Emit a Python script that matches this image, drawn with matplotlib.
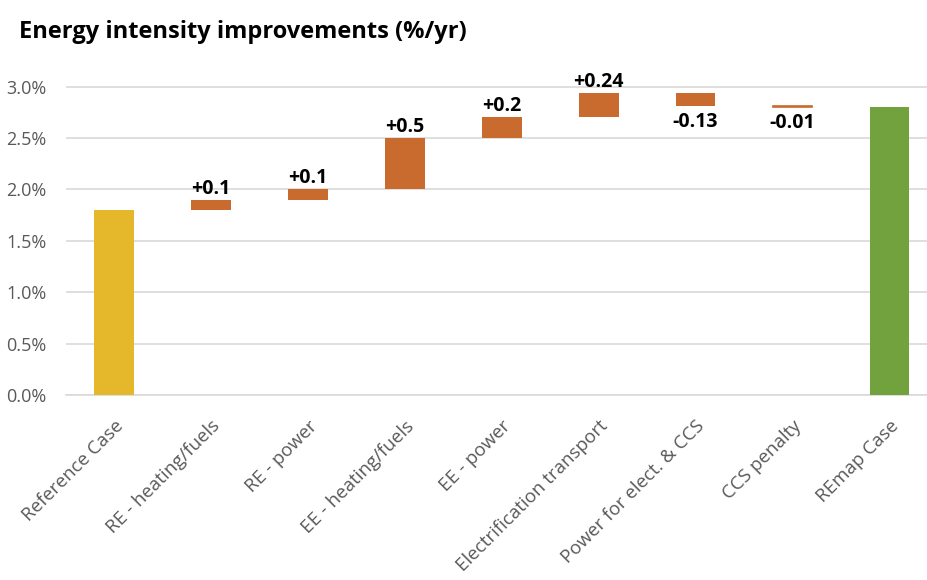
import numpy as np
import matplotlib.pyplot as plt
from matplotlib.ticker import FuncFormatter

plt.rcParams['font.family'] = ['Open Sans', 'DejaVu Sans']

# data
categories = ['Reference Case', 'RE - heating/fuels', 'RE - power', 'EE - heating/fuels',
              'EE - power', 'Electrification transport', 'Power for elect. & CCS',
              'CCS penalty', 'REmap Case']
start_value = 1.8
steps = [0.1, 0.1, 0.5, 0.2, 0.24, -0.13, -0.01]
step_labels = ['+0.1', '+0.1', '+0.5', '+0.2', '+0.24', '-0.13', '-0.01']
end_value = 2.8

yellow = '#E5B82B'
orange = '#C96A2E'
green = '#72A23E'

fig = plt.figure(figsize=(9.28, 5.8), dpi=100)
ax = fig.add_axes([0.0707, 0.319, 0.94, 0.576])

x = np.arange(len(categories))
w = 0.41

ax.bar(x[0], start_value, width=w, color=yellow, zorder=3)
level = start_value
for i, (s, lab) in enumerate(zip(steps, step_labels)):
    xi = x[i + 1]
    bottom = level if s > 0 else level + s
    h = abs(s)
    ax.bar(xi, h, bottom=bottom, width=w, color=orange, zorder=3,
           linewidth=0 if h > 0.02 else 1.2, edgecolor=orange)
    if s > 0:
        ax.text(xi, bottom + h + 0.01, lab, ha='center', va='bottom',
                fontsize=14, fontweight='bold', color='black')
    else:
        ax.text(xi, bottom - 0.06, lab, ha='center', va='top',
                fontsize=14, fontweight='bold', color='black')
    level += s
ax.bar(x[-1], end_value, width=w, color=green, zorder=3)

ax.set_xlim(-0.5, 8.5)
ax.set_ylim(0, 3.25)
ax.set_yticks(np.arange(0, 3.01, 0.5))
ax.yaxis.set_major_formatter(FuncFormatter(lambda v, p: f'{v:.1f}%'))
ax.grid(axis='y', color='#D9D9D9', linewidth=1.2, zorder=0)
for sp in ['top', 'right', 'left']:
    ax.spines[sp].set_visible(False)
ax.spines['bottom'].set_color('#D9D9D9')
ax.spines['bottom'].set_linewidth(1.2)
ax.tick_params(axis='both', length=0, colors='#595959')
ax.tick_params(axis='y', pad=14, labelsize=13)
ax.set_xticks(x)
ax.set_xticklabels(categories, rotation=45, ha='right', rotation_mode='anchor',
                   fontsize=13.5, color='#595959')
ax.tick_params(axis='x', pad=16)

fig.text(0.02, 0.945, 'Energy intensity improvements (%/yr)', fontsize=17,
         fontweight='bold', color='black', ha='left', va='center')

fig.savefig('out.png', dpi=100)
